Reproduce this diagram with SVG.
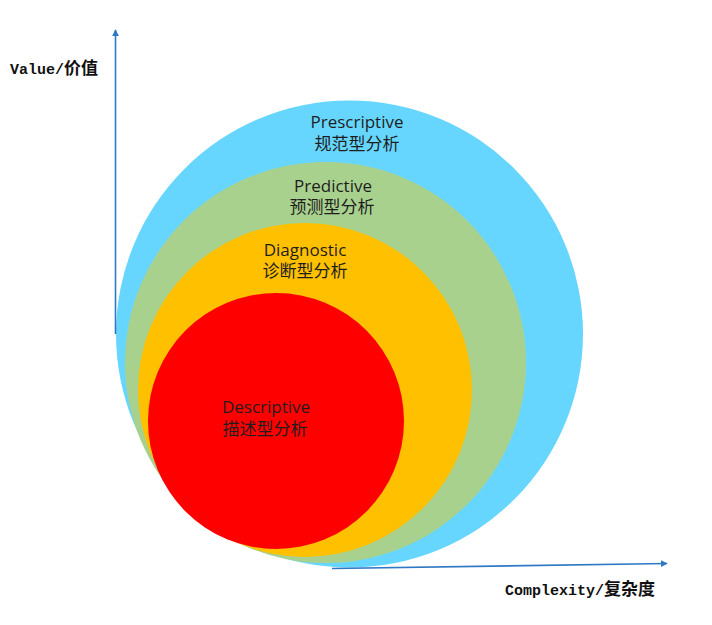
<svg xmlns="http://www.w3.org/2000/svg" width="712" height="625" viewBox="0 0 712 625">
<style>
.lbl{font-family:"Open Sans","Noto Sans CJK SC",sans-serif;font-size:17px;fill:#1e1e1e;text-anchor:middle}
.ax{font-family:"Liberation Mono","Noto Sans CJK SC",monospace;font-weight:bold;font-size:15px;fill:#111}
.cjk{font-family:"Noto Sans CJK SC",sans-serif;font-size:17px}
.axis{stroke:#2f78c4;stroke-width:1.6;fill:none}
</style>
<defs>
<marker id="arr" viewBox="0 0 10 10" refX="9" refY="5" markerWidth="7" markerHeight="7" markerUnits="userSpaceOnUse" orient="auto">
<path d="M0,0 L10,5 L0,10 z" fill="#2f78c4"/>
</marker>
</defs>
<rect width="712" height="625" fill="#fff"/>
<g id="prescriptive">
<circle cx="349.5" cy="334" r="233.5" fill="#66d6ff"/>
<text class="lbl" x="357" y="128">Prescriptive</text>
<text class="lbl" x="357" y="150">规范型分析</text>
</g>
<g id="predictive">
<circle cx="325.5" cy="362.5" r="200.5" fill="#a9d18e"/>
<text class="lbl" x="333" y="192">Predictive</text>
<text class="lbl" x="332" y="213">预测型分析</text>
</g>
<g id="diagnostic">
<circle cx="305" cy="390" r="167" fill="#ffc000"/>
<text class="lbl" x="305" y="256">Diagnostic</text>
<text class="lbl" x="305" y="277">诊断型分析</text>
</g>
<g id="descriptive">
<circle cx="276" cy="421" r="128" fill="#ff0000"/>
<text class="lbl" x="266" y="413">Descriptive</text>
<text class="lbl" x="265" y="435">描述型分析</text>
</g>
<g id="connectors">
<line class="axis" x1="115.5" y1="334" x2="115.5" y2="30" marker-end="url(#arr)"/>
<line class="axis" x1="332" y1="568.5" x2="667" y2="563.5" marker-end="url(#arr)"/>
</g>
<g id="axis-labels">
<text class="ax" x="10" y="74">Value/<tspan class="cjk">价值</tspan></text>
<text class="ax" x="505" y="595">Complexity/<tspan class="cjk">复杂度</tspan></text>
</g>
</svg>
